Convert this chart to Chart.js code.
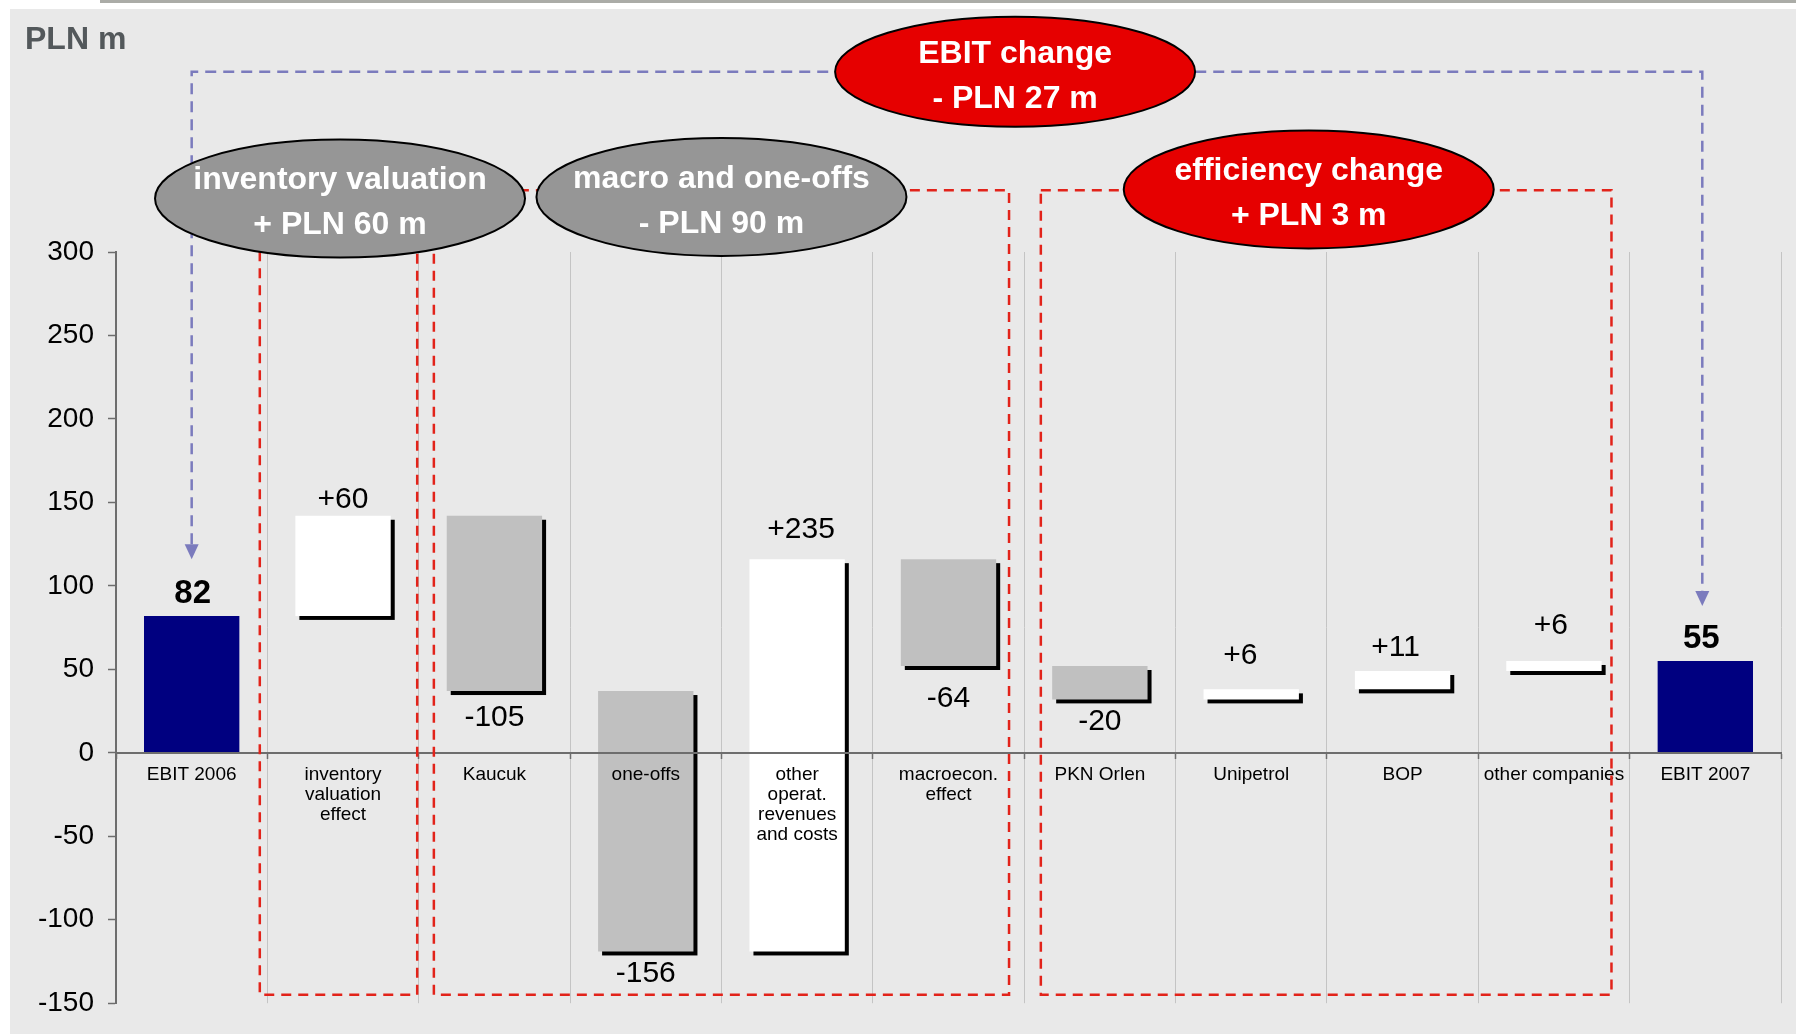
<!DOCTYPE html>
<html lang="en">
<head>
    <meta charset="UTF-8">
    <title>EBIT 2006 - EBIT 2007 bridge</title>
    <script src="https://cdn.jsdelivr.net/npm/chart.js"></script>
    <style>
        html, body { margin: 0; padding: 0; background: #fff; }
        canvas { display: block; }
    </style>
</head>
<body>
    <canvas id="grafico" width="1796" height="1034"></canvas>

    <script>
        // Categories on the x axis (arrays = several lines)
        const categories = [
            'EBIT 2006',
            ['inventory', 'valuation', 'effect'],
            'Kaucuk',
            'one-offs',
            ['other', 'operat.', 'revenues', 'and costs'],
            ['macroecon.', 'effect'],
            'PKN Orlen',
            'Unipetrol',
            'BOP',
            'other companies',
            'EBIT 2007'
        ];
        // Value of each step, PLN m (first and last are totals)
        const deltas = [82, 60, -105, -156, 235, -64, -20, 6, 11, 6, 55];
        const isTotal = [true, false, false, false, false, false, false, false, false, false, true];

        // Y axis ticks
        const yMin = -150;
        const yMax = 300;
        const yStep = 50;

        const unitLabel = 'PLN m';
        // Texts of the four bubbles
        const bubbleTexts = [
            ['EBIT change', '- PLN 27 m'],
            ['inventory valuation', '+ PLN 60 m'],
            ['macro and one-offs', '- PLN 90 m'],
            ['efficiency change', '+ PLN 3 m']
        ];

        // Hand placement of the value labels (px): gap from the bar edge, sideways shift
        const labelGap = [22, 16, 27, 22, 29, 33, 22, 34, 23, 35, 22];
        const labelShift = [1, 0, 0, 0, 4, 0, 0, -11, -7, -3, -4];

        const FONT = '"Liberation Sans", Arial, sans-serif';

        // Floating ranges: totals start at zero, each step starts where the previous ended
        let running = 0;
        const ranges = deltas.map((d, i) => {
            if (isTotal[i]) { running = d; return [0, d]; }
            const start = running;
            running += d;
            return [start, running];
        });
        const barColors = deltas.map((d, i) => isTotal[i] ? '#000080' : (d > 0 ? '#ffffff' : '#c0c0c0'));

        // Page background, grey panel and unit label
        const background = {
            id: 'background',
            beforeDraw(chart) {
                const c = chart.ctx, W = chart.width, H = chart.height;
                c.save();
                c.fillStyle = '#ffffff';
                c.fillRect(0, 0, W, H);
                c.fillStyle = '#abaca7';
                c.fillRect(100, 0, W - 100, 3);
                c.fillStyle = '#e9e9e9';
                c.fillRect(10, 9, W - 10, H - 9);
                c.fillStyle = '#53585b';
                c.font = 'bold 32px ' + FONT;
                c.textBaseline = 'alphabetic';
                c.fillText(unitLabel, 25, 49);
                c.restore();
            }
        };

        // Black drop shadow behind the step bars
        const shadows = {
            id: 'shadows',
            beforeDatasetsDraw(chart) {
                const c = chart.ctx;
                const meta = chart.getDatasetMeta(0);
                c.save();
                c.fillStyle = '#000';
                meta.data.forEach((bar, i) => {
                    if (isTotal[i]) return;
                    const top = Math.min(bar.y, bar.base), bottom = Math.max(bar.y, bar.base);
                    c.fillRect(bar.x - bar.width / 2 + 4, top + 4, bar.width, bottom - top);
                });
                c.restore();
            }
        };

        // Value labels above / below the bars
        const valueLabels = {
            id: 'valueLabels',
            afterDatasetsDraw(chart) {
                const c = chart.ctx;
                const meta = chart.getDatasetMeta(0);
                c.save();
                c.fillStyle = '#000';
                c.textAlign = 'center';
                c.textBaseline = 'middle';
                meta.data.forEach((bar, i) => {
                    const d = deltas[i];
                    const top = Math.min(bar.y, bar.base), bottom = Math.max(bar.y, bar.base);
                    const x = bar.x + labelShift[i];
                    if (isTotal[i]) {
                        c.font = 'bold 33px ' + FONT;
                        c.fillText(String(d), x, top - labelGap[i]);
                    } else {
                        c.font = '30px ' + FONT;
                        const text = (d > 0 ? '+' : '') + d;
                        c.fillText(text, x, d > 0 ? top - labelGap[i] : bottom + labelGap[i]);
                    }
                });
                c.restore();
            }
        };

        // Dashed frames, connector arrows and bubbles
        const annotations = {
            id: 'annotations',
            afterDraw(chart) {
                const c = chart.ctx;
                const xs = chart.scales.x, ys = chart.scales.y;
                const step = (xs.right - xs.left) / categories.length;
                const px = p => xs.left + p * step;
                const py = v => ys.getPixelForValue(v);

                function arrow(x, y) {
                    c.beginPath();
                    c.moveTo(x, y);
                    c.lineTo(x - 7, y - 15);
                    c.lineTo(x + 7, y - 15);
                    c.closePath();
                    c.fill();
                }

                c.save();
                // blue connector from EBIT 2006 to EBIT 2007
                const blue = '#7b7bbd';
                c.strokeStyle = blue;
                c.lineWidth = 2.5;
                c.setLineDash([11, 7]);
                c.beginPath();
                c.moveTo(px(0.5), py(116) - 15);
                c.lineTo(px(0.5), py(408));
                c.lineTo(px(10.48), py(408));
                c.lineTo(px(10.48), py(88) - 15);
                c.stroke();
                c.setLineDash([]);
                c.fillStyle = blue;
                arrow(px(0.5), py(116));
                arrow(px(10.48), py(88));

                // red dashed group frames
                c.strokeStyle = '#e2231a';
                c.lineWidth = 2.5;
                c.setLineDash([10, 7]);
                [[0.95, 1.99], [2.1, 5.9], [6.11, 9.88]].forEach(([a, b]) => {
                    c.strokeRect(px(a), py(337), px(b) - px(a), py(-145) - py(337));
                });
                c.setLineDash([]);

                // bubbles
                const bubbles = [
                    { p: 5.94, v: 408, rx: 180, ry: 55, fill: '#e60000', text: bubbleTexts[0] },
                    { p: 1.48, v: 332, rx: 185, ry: 59, fill: '#969696', text: bubbleTexts[1] },
                    { p: 4.0, v: 333, rx: 185, ry: 59, fill: '#969696', text: bubbleTexts[2] },
                    { p: 7.88, v: 337.5, rx: 185, ry: 59, fill: '#e60000', text: bubbleTexts[3] }
                ];
                bubbles.forEach(b => {
                    const cx = px(b.p), cy = py(b.v);
                    c.beginPath();
                    c.ellipse(cx, cy, b.rx, b.ry, 0, 0, Math.PI * 2);
                    c.fillStyle = b.fill;
                    c.fill();
                    c.lineWidth = 2;
                    c.strokeStyle = '#000';
                    c.stroke();
                    c.fillStyle = '#fff';
                    c.font = 'bold 32px ' + FONT;
                    c.textAlign = 'center';
                    c.textBaseline = 'middle';
                    c.fillText(b.text[0], cx, cy - 18);
                    c.fillText(b.text[1], cx, cy + 27);
                });
                c.restore();
            }
        };

        const ctx = document.getElementById('grafico').getContext('2d');
        new Chart(ctx, {
            type: 'bar',
            data: {
                labels: categories,
                datasets: [{
                    data: ranges,
                    backgroundColor: barColors,
                    borderWidth: 0,
                    categoryPercentage: 1,
                    barPercentage: 0.63
                }]
            },
            options: {
                responsive: false,
                animation: false,
                devicePixelRatio: 1,
                layout: { padding: { top: 252, right: 15, bottom: 28, left: 0 } },
                plugins: {
                    legend: { display: false },
                    tooltip: { enabled: false }
                },
                scales: {
                    x: {
                        position: { y: 0 },
                        offset: true,
                        ticks: {
                            z: 1,
                            color: '#000',
                            font: { family: FONT, size: 19, lineHeight: 1.05 },
                            padding: 7,
                            autoSkip: false,
                            maxRotation: 0
                        },
                        grid: {
                            color: '#c4c4c4',
                            lineWidth: 1,
                            offset: true,
                            tickLength: 5,
                            tickColor: '#6d6d6d',
                            tickWidth: 1.5
                        },
                        border: { color: '#6d6d6d', width: 2, z: 1 }
                    },
                    y: {
                        min: yMin,
                        max: yMax,
                        ticks: {
                            stepSize: yStep,
                            color: '#000',
                            font: { family: FONT, size: 28 },
                            padding: 14
                        },
                        grid: {
                            drawOnChartArea: false,
                            drawTicks: true,
                            tickLength: 8,
                            tickColor: '#6d6d6d',
                            tickWidth: 1.5
                        },
                        border: { color: '#6d6d6d', width: 2 },
                        afterFit(scale) { scale.width = 116; }
                    }
                }
            },
            plugins: [background, shadows, valueLabels, annotations]
        });
    </script>
</body>
</html>
